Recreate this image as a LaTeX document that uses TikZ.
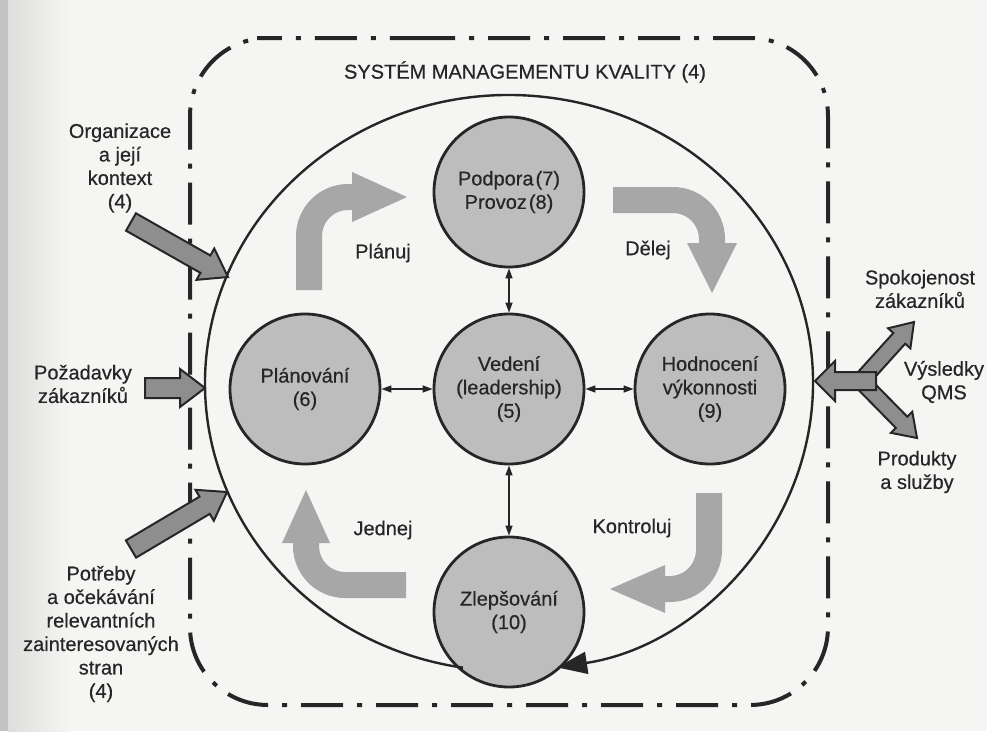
\documentclass[tikz,border=0pt]{standalone}
\usepackage{fontspec}
\setmainfont{Liberation Sans}[FakeBold=0.5]
\usetikzlibrary{arrows.meta,calc}

\definecolor{paper}{HTML}{F5F5F3}
\definecolor{pageedge}{HTML}{C2C2C2}
\definecolor{pageshade}{HTML}{DEDEDC}
\definecolor{ink}{HTML}{262626}
\definecolor{discfill}{HTML}{BDBDBD}
\definecolor{cyclefill}{HTML}{A7A7A7}
\definecolor{flowfill}{HTML}{8E8E8E}

% broad outlined arrow from a tail coordinate to a tip coordinate
% #1 style, #2 tail, #3 tip, #4 shaft half-width, #5 head half-width, #6 head length
\newcommand\fatarrow[6]{%
  \coordinate (fa-base) at ($(#3)!#6pt!(#2)$);
  \path[#1] ($(#2)!#4pt!90:(#3)$) -- ($(fa-base)!#4pt!90:(#3)$)
    -- ($(fa-base)!#5pt!90:(#3)$) -- (#3)
    -- ($(fa-base)!#5pt!-90:(#3)$) -- ($(fa-base)!#4pt!-90:(#3)$)
    -- ($(#2)!#4pt!-90:(#3)$) -- cycle;
}

\begin{document}
\begin{tikzpicture}[x=1pt,y=-1pt,
  every node/.style={font=\fontsize{20}{23.5}\selectfont, text=ink, align=center, inner sep=0pt},
  disc/.style={circle, draw=ink, line width=2.8pt, fill=discfill, minimum size=150pt},
  cyclearrow/.style={fill=cyclefill},
  flowarrow/.style={fill=flowfill, draw=ink, line width=2pt, line join=miter},
  linkarrow/.style={{Triangle[length=10pt,width=7pt]}-{Triangle[length=10pt,width=7pt]}, draw=ink, line width=1.4pt},
  frame/.style={draw=ink, line width=4pt, dash pattern=on 42pt off 14pt on 5pt off 14pt, rounded corners=78pt}
]
% page
\fill[paper] (0,0) rectangle (987,731);
\shade[left color=pageshade, right color=paper] (8,0) rectangle (70,731);
\fill[pageedge] (0,0) rectangle (8,731);
\useasboundingbox (0,0) rectangle (987,731);

% dash-dot system boundary
\draw[frame] (335,38) -- (828,38) -- (828,705) -- (190,705) -- (190,38) -- cycle;
\node (title) at (525,72) {SYSTÉM MANAGEMENTU KVALITY (4)};

% PDCA cycle arrows
\fill[cyclearrow] (296,290) -- (296,236) arc[start angle=180, end angle=270, radius=52]
  -- (352,184) -- (352,172) -- (407,197) -- (352,222) -- (352,210) -- (348,210)
  arc[start angle=270, end angle=180, radius=26] -- (322,290) -- cycle;
\fill[cyclearrow] (613,187) -- (673,187) arc[start angle=270, end angle=360, radius=52]
  -- (725,243) -- (737,243) -- (712,293) -- (687,243) -- (699,243) -- (699,239)
  arc[start angle=0, end angle=-90, radius=26] -- (613,213) -- cycle;
\fill[cyclearrow] (696,493) -- (722,493) -- (722,550) arc[start angle=0, end angle=90, radius=52]
  -- (665,602) -- (665,613) -- (610,589) -- (665,565) -- (665,576) -- (670,576)
  arc[start angle=90, end angle=0, radius=26] -- cycle;
\fill[cyclearrow] (406,598) -- (345,598) arc[start angle=90, end angle=180, radius=52]
  -- (293,543) -- (282,543) -- (306,490) -- (330,543) -- (319,543) -- (319,546)
  arc[start angle=180, end angle=90, radius=26] -- (406,572) -- cycle;

\node (planuj) at (383,253) {Plánuj};
\node (delej) at (648,250) {Dělej};
\node (jednej) at (383,530) {Jednej};
\node (kontroluj) at (632,528) {Kontroluj};

% clauses
\node[disc] (podpora) at (509,192) {Podpora\kern2pt(7)\\Provoz\kern2pt(8)};
\node[disc] (vedeni) at (509,389) {Vedení\\(leadership)\\(5)};
\node[disc] (planovani) at (305,389) {Plánování\\(6)};
\node[disc] (hodnoceni) at (710,389) {Hodnocení\\výkonnosti\\(9)};
\node[disc] (zlepsovani) at (509,612) {Zlepšování\\(10)};

\draw[linkarrow] (planovani) -- (vedeni);
\draw[linkarrow] (vedeni) -- (hodnoceni);
\draw[linkarrow] (podpora) -- (vedeni);
\draw[linkarrow] (vedeni) -- (zlepsovani);

% the system cycle, closing on improvement
\draw[ink, line width=2.4pt, -{Triangle[length=30pt,width=22pt]}]
  (509,383) ++(98.7:304 and 288)
  arc[start angle=98.7, end angle=440.9, x radius=304, y radius=288];

% inputs
\coordinate (orgtail) at (131,222);
\coordinate (orgtip) at (228,277);
\coordinate (poztail) at (145,388);
\coordinate (poztip) at (205,388);
\coordinate (potrtail) at (131,549);
\coordinate (potrtip) at (227,492);
\fatarrow{flowarrow}{orgtail}{orgtip}{10}{18}{26}
\fatarrow{flowarrow}{poztail}{poztip}{10}{19}{25}
\fatarrow{flowarrow}{potrtail}{potrtip}{10}{18}{26}

\node (org) at (120,168) {Organizace\\a její\\kontext\\(4)};
\node (poz) at (83,384) {Požadavky\\zákazníků};
\node (potr) at (101,634) {Potřeby\\a očekávání\\relevantních\\zainteresovaných\\stran\\(4)};

% results
\coordinate (spoktail) at (858,384);
\coordinate (spoktip) at (914,322);
\coordinate (prodtail) at (858,378);
\coordinate (prodtip) at (917,438);
\coordinate (qmstail) at (876,381);
\coordinate (qmstip) at (815,381);
\fatarrow{flowarrow}{spoktail}{spoktip}{8}{15}{22}
\fatarrow{flowarrow}{prodtail}{prodtip}{8}{15}{22}
\fatarrow{flowarrow}{qmstail}{qmstip}{9}{20}{20}

\node (spok) at (920,289) {Spokojenost\\zákazníků};
\node (vysl) at (944,382) {Výsledky\\QMS};
\node (prod) at (917,472) {Produkty\\a služby};
\end{tikzpicture}
\end{document}
